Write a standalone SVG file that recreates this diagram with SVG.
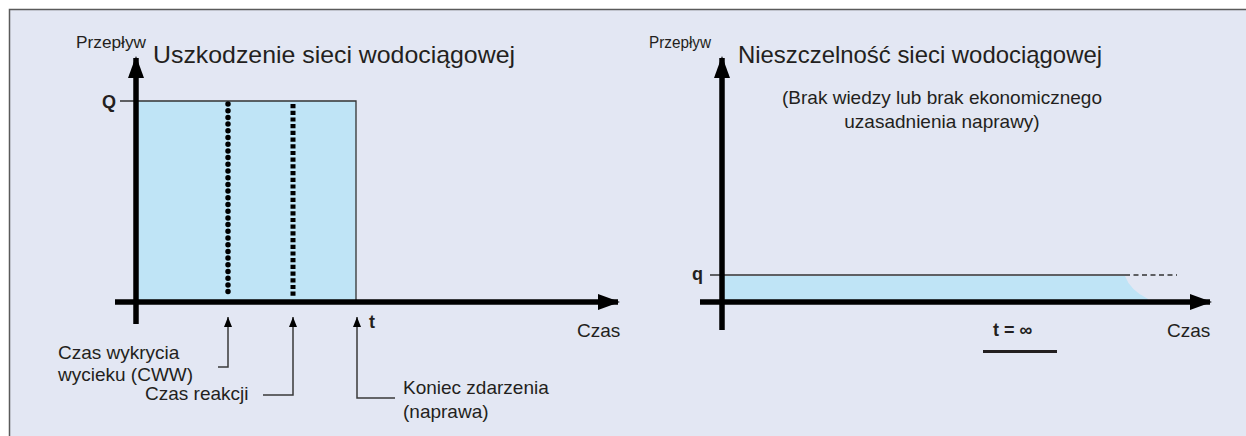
<svg xmlns="http://www.w3.org/2000/svg" width="1246" height="436" viewBox="0 0 1246 436">
<style>
text{font-family:"Liberation Sans",Arial,sans-serif;fill:#231f20}
.t{font-size:24px}
.ax{font-size:17px}
.lb{font-size:19px}
.b{font-weight:bold;font-size:18px}
.axis{stroke:#000;stroke-width:5.5;fill:none}
.call{stroke:#3a3a3a;stroke-width:1.5;fill:none}
.thin{stroke:#333;stroke-width:1.3;fill:none}
</style>
<defs>
<marker id="big" viewBox="0 0 22 16" refX="20" refY="8" markerWidth="22" markerHeight="16" markerUnits="userSpaceOnUse" orient="auto"><path d="M0,0 L22,8 L0,16 Z" fill="#000"/></marker>
<marker id="small" viewBox="0 0 10 8" refX="10" refY="4" markerWidth="10" markerHeight="8" markerUnits="userSpaceOnUse" orient="auto-start-reverse"><path d="M0,0 L10,4 L0,8 Z" fill="#000"/></marker>
</defs>
<rect x="0" y="0" width="1246" height="436" fill="#fff"/>
<rect x="9" y="9" width="1240" height="430" fill="#e3e7f3"/>
<path d="M9.5,436 V9.5 H1246" stroke="#5a5a5a" stroke-width="1.5" fill="none"/>

<g id="chart-left">
<rect x="136" y="101" width="220" height="199" fill="#bfe4f6"/>
<path class="thin" d="M120,101 H356 V300"/>
<line x1="228" y1="104" x2="228" y2="297" stroke="#000" stroke-width="5.5" stroke-linecap="round" stroke-dasharray="0 6.7"/>
<line x1="293" y1="104" x2="293" y2="297" stroke="#000" stroke-width="5" stroke-dasharray="4.2 2.5"/>
<line class="axis" x1="136" y1="324" x2="136" y2="58" marker-end="url(#big)"/>
<line class="axis" x1="115" y1="302" x2="618" y2="302" marker-end="url(#big)"/>
<text class="ax" x="76" y="48" textLength="70" lengthAdjust="spacingAndGlyphs">Przepływ</text>
<text class="t" x="153" y="63" textLength="362" lengthAdjust="spacingAndGlyphs">Uszkodzenie sieci wodociągowej</text>
<text class="b" x="102" y="108">Q</text>
<text class="b" x="369" y="328">t</text>
<text class="lb" x="577" y="337">Czas</text>
</g>

<g id="connectors">
<path class="call" d="M228,317 V367 H218" marker-start="url(#small)"/>
<path class="call" d="M293,317 V395 H263" marker-start="url(#small)"/>
<path class="call" d="M357,317 V398 H395" marker-start="url(#small)"/>
</g>

<g id="label-cww">
<text class="lb" x="58" y="359">Czas wykrycia</text>
<text class="lb" x="58" y="381">wycieku (CWW)</text>
</g>
<g id="label-reakcja">
<text class="lb" x="145" y="400">Czas reakcji</text>
</g>
<g id="label-koniec">
<text class="lb" x="403" y="394">Koniec zdarzenia</text>
<text class="lb" x="403" y="418">(naprawa)</text>
</g>

<g id="chart-right">
<path d="M722,276 H1125 Q1130,290 1148,299 V300 H722 Z" fill="#bfe4f6"/>
<path class="thin" d="M710,275 H1125"/>
<path class="thin" d="M1125,275 H1177" stroke-dasharray="5 3.5"/>
<line class="axis" x1="722" y1="330" x2="722" y2="58" marker-end="url(#big)"/>
<line class="axis" x1="700" y1="302" x2="1210" y2="302" marker-end="url(#big)"/>
<text class="ax" x="649" y="48" textLength="62" lengthAdjust="spacingAndGlyphs" font-size="15">Przepływ</text>
<text class="t" x="738" y="63" textLength="364" lengthAdjust="spacingAndGlyphs">Nieszczelność sieci wodociągowej</text>
<text class="lb" x="942" y="104" text-anchor="middle" font-size="20">(Brak wiedzy lub brak ekonomicznego</text>
<text class="lb" x="942" y="128" text-anchor="middle" font-size="20">uzasadnienia naprawy)</text>
<text class="b" x="692" y="280">q</text>
<text class="b" x="993" y="336">t = ∞</text>
<line x1="983" y1="351.5" x2="1057" y2="351.5" stroke="#231f20" stroke-width="3"/>
<text class="lb" x="1167" y="337">Czas</text>
</g>
</svg>
